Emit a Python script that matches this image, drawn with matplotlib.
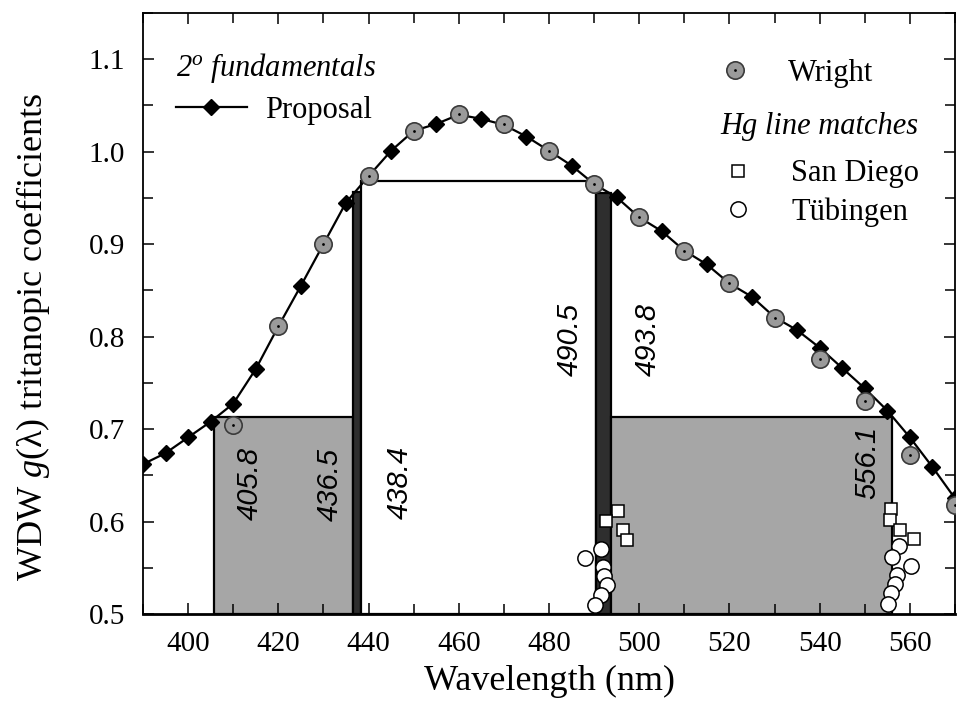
import numpy as np
import matplotlib
matplotlib.use("Agg")
import matplotlib.pyplot as plt
from matplotlib.ticker import MultipleLocator, FormatStrFormatter
from matplotlib.legend_handler import HandlerTuple
from matplotlib.font_manager import FontProperties

plt.rcParams["font.family"] = ["Liberation Serif", "DejaVu Serif"]
plt.rcParams["mathtext.fontset"] = "custom"
plt.rcParams["mathtext.rm"] = "Liberation Serif"
plt.rcParams["mathtext.it"] = "Liberation Serif:italic"

# 2-deg fundamentals proposal, 5 nm steps
prop_wl = np.arange(390, 571, 5)
prop_g = [0.662, 0.674, 0.691, 0.708, 0.7275, 0.765, 0.811, 0.855, 0.900, 0.945,
          0.9735, 1.001, 1.0225, 1.030, 1.040, 1.0355, 1.029, 1.0164, 1.001, 0.985,
          0.965, 0.9507, 0.929, 0.914, 0.893, 0.878, 0.8575, 0.843, 0.821, 0.807,
          0.788, 0.766, 0.744, 0.720, 0.691, 0.659, 0.625]

# Wright's tritanopic coefficients, 10 nm steps
wright_wl = np.arange(410, 571, 10)
wright_g = [0.704, 0.811, 0.900, 0.9735, 1.0225, 1.041, 1.030, 1.001, 0.965,
            0.9297, 0.893, 0.8575, 0.820, 0.776, 0.730, 0.6715, 0.618]

# Hg line matches
sandiego_wl = [495.2, 492.6, 496.4, 497.3, 555.9, 555.7, 557.8, 560.9]
sandiego_g = [0.611, 0.601, 0.591, 0.5805, 0.6138, 0.6014, 0.5913, 0.5812]
tubingen_wl = [488.0, 491.5, 491.9, 492.2, 492.8, 491.5, 490.2,
               557.6, 556.1, 560.3, 557.2, 556.6, 555.9, 555.1]
tubingen_g = [0.5607, 0.5707, 0.551, 0.5407, 0.531, 0.521, 0.510,
              0.5733, 0.5613, 0.5516, 0.5426, 0.5328, 0.5227, 0.5112]

# Hg lines and the bands between them
hg_lines = [405.8, 436.5, 438.4, 490.5, 493.8, 556.1]
band_top = [0.713, 0.956, 0.968, 0.955, 0.713]

fig = plt.figure(figsize=(9.57, 7.11), dpi=100)
ax = fig.add_axes([143 / 957, 97 / 711, 812 / 957, 601 / 711])

band_colors = ["#a6a6a6", "#2e2e2e", "white", "#2e2e2e", "#a6a6a6"]
lefts = np.array(hg_lines[:-1])
widths = np.array(hg_lines[1:]) - lefts
heights = np.array(band_top) - 0.5
ax.bar(lefts, heights, width=widths, bottom=0.5, align="edge",
       color=band_colors, edgecolor="black", linewidth=1.6, zorder=1)

prop_line, = ax.plot(prop_wl, prop_g, color="black", lw=1.6, marker="D",
                     ms=8.5, mfc="black", mec="black", zorder=3)
wright_pts, = ax.plot(wright_wl, wright_g, ls="none", marker="o", ms=12.5,
                      mfc="#9a9a9a", mec="#3a3a3a", mew=1.2, zorder=4)
wright_dot, = ax.plot(wright_wl, wright_g, ls="none", marker="o", ms=2,
                      mfc="black", mec="black", mew=0, zorder=4.5)
sd_pts, = ax.plot(sandiego_wl, sandiego_g, ls="none", marker="s", ms=9,
                  mfc="white", mec="black", mew=1.1, zorder=5)
tu_pts, = ax.plot(tubingen_wl, tubingen_g, ls="none", marker="o", ms=11,
                  mfc="white", mec="black", mew=1.1, zorder=5)

# rotated wavelength labels
label_dx = [7.9, -5.0, 8.6, -5.8, 8.2, -5.5]
label_y = [0.641, 0.640, 0.642, 0.797, 0.797, 0.664]
for wl, dx, yy in zip(hg_lines, label_dx, label_y):
    ax.text(wl + dx, yy, f"{wl:.1f}", rotation=90, ha="center", va="center",
            family="Liberation Sans", style="italic", fontsize=21, zorder=6)

ax.set_xlim(390, 570)
ax.set_ylim(0.5, 1.15)
ax.xaxis.set_major_locator(MultipleLocator(20))
ax.xaxis.set_minor_locator(MultipleLocator(10))
ax.yaxis.set_major_locator(MultipleLocator(0.1))
ax.yaxis.set_minor_locator(MultipleLocator(0.05))
ax.yaxis.set_major_formatter(FormatStrFormatter("%.1f"))
ax.tick_params(which="both", direction="in", top=True, right=True,
               width=1.1, labelsize=21)
ax.tick_params(which="major", length=8)
ax.tick_params(which="minor", length=7)
ax.tick_params(axis="x", which="major", pad=12)
ax.tick_params(axis="y", which="major", pad=13)
for s in ax.spines.values():
    s.set_linewidth(1.3)
ax.spines["bottom"].set_linewidth(2.0)

ax.set_xlabel("Wavelength (nm)", fontsize=26, va="center")
ax.xaxis.set_label_coords(0.5, -0.112)
ax.set_ylabel(r"WDW $\mathit{g}(\mathrm{\lambda})$ tritanopic coefficients",
              fontsize=26, va="center")
ax.yaxis.set_label_coords(-0.1355, 0.462)

fp_legend = FontProperties(family="Liberation Serif", size=22)
fp_title = FontProperties(family="Liberation Serif", style="italic", size=22)

leg1 = ax.legend([prop_line], ["Proposal"], title=r"2$^{\mathit{o}}$ fundamentals",
                 loc="upper left", bbox_to_anchor=((176 - 143) / 812, (614 - 51) / 601),
                 frameon=False, borderpad=0, borderaxespad=0, handlelength=2.32,
                 handletextpad=0.59, prop=fp_legend, title_fontproperties=fp_title,
                 alignment="left", labelspacing=0.35, numpoints=1)
ax.add_artist(leg1)

leg2 = ax.legend([(wright_pts, wright_dot)], ["Wright"],
                 handler_map={tuple: HandlerTuple(ndivide=1)},
                 loc="center left", bbox_to_anchor=((717 - 143) / 812, (614 - 73) / 601),
                 frameon=False, borderpad=0, borderaxespad=0, handlelength=1.18,
                 handletextpad=1.15, prop=fp_legend, numpoints=1)
ax.add_artist(leg2)

ax.text((720 - 143) / 812, (614 - 126) / 601, "Hg line matches", transform=ax.transAxes,
        ha="left", va="center", fontproperties=fp_title)

ax.legend([sd_pts, tu_pts], ["San Diego", "Tübingen"],
          loc="center left", bbox_to_anchor=((720 - 143) / 812, (614 - 193) / 601),
          frameon=False, borderpad=0, borderaxespad=0, handlelength=1.18,
          handletextpad=1.15, prop=fp_legend, labelspacing=0.28, numpoints=1)

fig.savefig("out.png", dpi=100)
